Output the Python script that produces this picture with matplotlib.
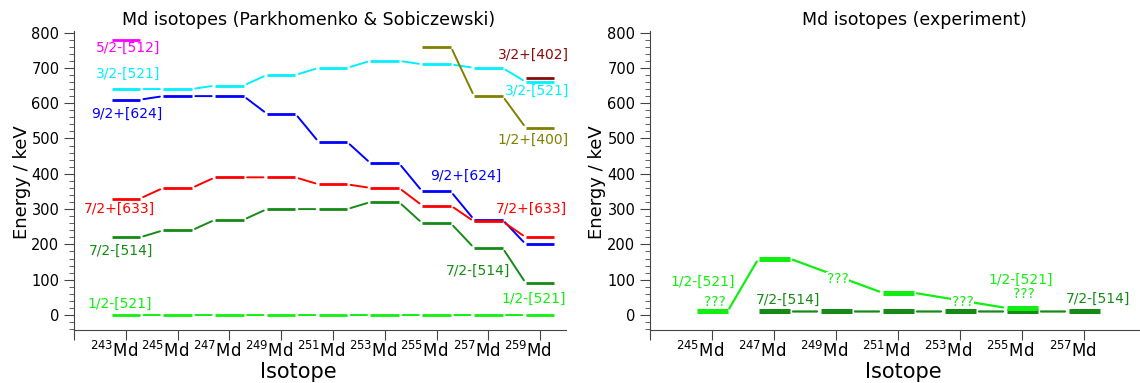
import matplotlib
matplotlib.use("Agg")
import matplotlib.pyplot as plt
import matplotlib.transforms as mtransforms
from matplotlib.ticker import MultipleLocator

plt.rcParams["font.family"] = ["DejaVu Sans"]

# isotopes (mass number A of Md)
isotopes = [243, 245, 247, 249, 251, 253, 255, 257, 259]
isotopes_exp = [245, 247, 249, 251, 253, 255, 257]

# Parkhomenko & Sobiczewski, keV (None = not shown)
th_5_2m_512 = [780, None, None, None, None, None, None, None, None]
th_3_2m_521 = [640, 640, 650, 680, 700, 720, 710, 700, 660]
th_9_2p_624 = [610, 620, 620, 570, 490, 430, 350, 270, 200]
th_7_2p_633 = [330, 360, 390, 390, 370, 360, 310, 265, 220]
th_7_2m_514 = [220, 240, 270, 300, 300, 320, 260, 190, 90]
th_1_2m_521 = [0, 0, 0, 0, 0, 0, 0, 0, 0]
th_1_2p_400 = [None, None, None, None, None, None, 760, 620, 530]
th_3_2p_402 = [None, None, None, None, None, None, None, None, 670]

# experiment, keV
exp_1_2m_521 = [10, 160, None, 63, None, 20, None]
exp_7_2m_514 = [None, 10, 10, 10, 10, 10, 10]

c_mag = "#ff00ff"
c_cyan = "#00f0ff"
c_blue = "#0000ff"
c_red = "#ff0000"
c_dkgreen = "#168a16"
c_ltgreen = "#11ee11"
c_olive = "#808000"
c_dkred = "#8b0a0a"


def draw_levels(ax, xs, ys, color, hw, lw_bar, lw_link):
    pts = [(x, y) for x, y in zip(xs, ys) if y is not None]
    for x, y in pts:
        ax.plot([x - hw, x + hw], [y, y], color=color, lw=lw_bar,
                solid_capstyle="butt", zorder=3)
    for (x0, y0), (x1, y1) in zip(pts[:-1], pts[1:]):
        ax.annotate("", xy=(x1 - hw, y1), xytext=(x0 + hw, y0),
                    arrowprops=dict(arrowstyle="-", color=color, lw=lw_link,
                                    shrinkA=2.5, shrinkB=2.5),
                    zorder=2)


def style_axes(ax, ticks, masses):
    for s in ["top", "right"]:
        ax.spines[s].set_visible(False)
    for s in ["left", "bottom"]:
        ax.spines[s].set_color("#444444")
    ax.set_ylim(-43, 805)
    ax.set_yticks(range(0, 801, 100))
    ax.yaxis.set_minor_locator(MultipleLocator(20))
    ax.tick_params(axis="y", which="major", length=7, labelsize=10.5,
                   color="#444444")
    ax.tick_params(axis="y", which="minor", length=3.5, color="#444444")
    ax.tick_params(axis="x", which="major", length=7, labelsize=12,
                   color="#444444", pad=1)
    ax.set_xticks(ticks)
    ax.set_xticklabels([r"$^{%d}$Md" % a if a in masses else "" for a in ticks])
    # keep "Md" centred on the tick, mass number sticks out to the left
    shift = mtransforms.ScaledTranslation(12 / 100, 0, fig.dpi_scale_trans)
    for lab in ax.get_xticklabels():
        lab.set_ha("right")
        lab.set_transform(lab.get_transform() + shift)


fig = plt.figure(figsize=(11.4, 3.83), dpi=100)
H = 383.0
W = 1140.0
ax1 = fig.add_axes([74 / W, 1 - 330.2 / H, 492 / W, 299.4 / H])
ax2 = fig.add_axes([650 / W, 1 - 330.2 / H, 527 / W, 299.4 / H])

# left: theory
hw1 = 0.55
for vals, col in [(th_5_2m_512, c_mag), (th_3_2m_521, c_cyan),
                  (th_9_2p_624, c_blue), (th_7_2p_633, c_red),
                  (th_7_2m_514, c_dkgreen), (th_1_2m_521, c_ltgreen),
                  (th_1_2p_400, c_olive), (th_3_2p_402, c_dkred)]:
    draw_levels(ax1, isotopes, vals, col, hw1, 2.0, 1.4)

left_labels = [
    ("5/2-[512]", 243.09, 756, c_mag),
    ("3/2-[521]", 243.09, 683, c_cyan),
    ("9/2+[624]", 243.05, 569, c_blue),
    ("7/2+[633]", 242.77, 302, c_red),
    ("7/2-[514]", 242.80, 182, c_dkgreen),
    ("1/2-[521]", 242.77, 31, c_ltgreen),
    ("3/2+[402]", 258.73, 738, c_dkred),
    ("3/2-[521]", 258.88, 635, c_cyan),
    ("1/2+[400]", 258.73, 496, c_olive),
    ("9/2+[624]", 256.13, 395, c_blue),
    ("7/2+[633]", 258.67, 302, c_red),
    ("7/2-[514]", 256.60, 125, c_dkgreen),
    ("1/2-[521]", 258.75, 45, c_ltgreen),
]
for txt, x, y, col in left_labels:
    ax1.text(x, y, txt, color=col, fontsize=10, ha="center", va="center",
             zorder=5)

ax1.set_xlim(241, 260)
style_axes(ax1, [241] + isotopes, isotopes)

# right: experiment
draw_levels(ax2, isotopes_exp, exp_7_2m_514, c_dkgreen, 0.5, 3.6, 1.6)
draw_levels(ax2, isotopes_exp, exp_1_2m_521, c_ltgreen, 0.5, 3.6, 1.6)

right_labels = [
    ("1/2-[521]", 244.69, 95, c_ltgreen),
    ("???", 245.10, 38, c_ltgreen),
    ("7/2-[514]", 247.44, 43, c_dkgreen),
    ("???", 249.05, 101, c_ltgreen),
    ("???", 253.08, 38, c_ltgreen),
    ("1/2-[521]", 254.97, 99, c_ltgreen),
    ("???", 255.07, 59, c_ltgreen),
    ("7/2-[514]", 257.44, 47, c_dkgreen),
]
for txt, x, y, col in right_labels:
    ax2.text(x, y, txt, color=col, fontsize=10, ha="center", va="center",
             zorder=5, bbox=dict(fc="white", ec="none", pad=0.5))

ax2.set_xlim(243, 260)
style_axes(ax2, [243] + isotopes_exp + [259], isotopes_exp)

# titles and axis labels
fig.text(309 / W, 1 - 20 / H, "Md isotopes (Parkhomenko & Sobiczewski)",
         ha="center", va="center", fontsize=12.5)
fig.text(914 / W, 1 - 20 / H, "Md isotopes (experiment)",
         ha="center", va="center", fontsize=12.5)
fig.text(298 / W, 1 - 372 / H, "Isotope", ha="center", va="center",
         fontsize=15)
fig.text(903 / W, 1 - 372 / H, "Isotope", ha="center", va="center",
         fontsize=15)
fig.text(22 / W, 1 - 182 / H, "Energy / keV", ha="center", va="center",
         rotation=90, fontsize=13)
fig.text(597 / W, 1 - 182 / H, "Energy / keV", ha="center", va="center",
         rotation=90, fontsize=13)

fig.savefig("out.png", dpi=100)
